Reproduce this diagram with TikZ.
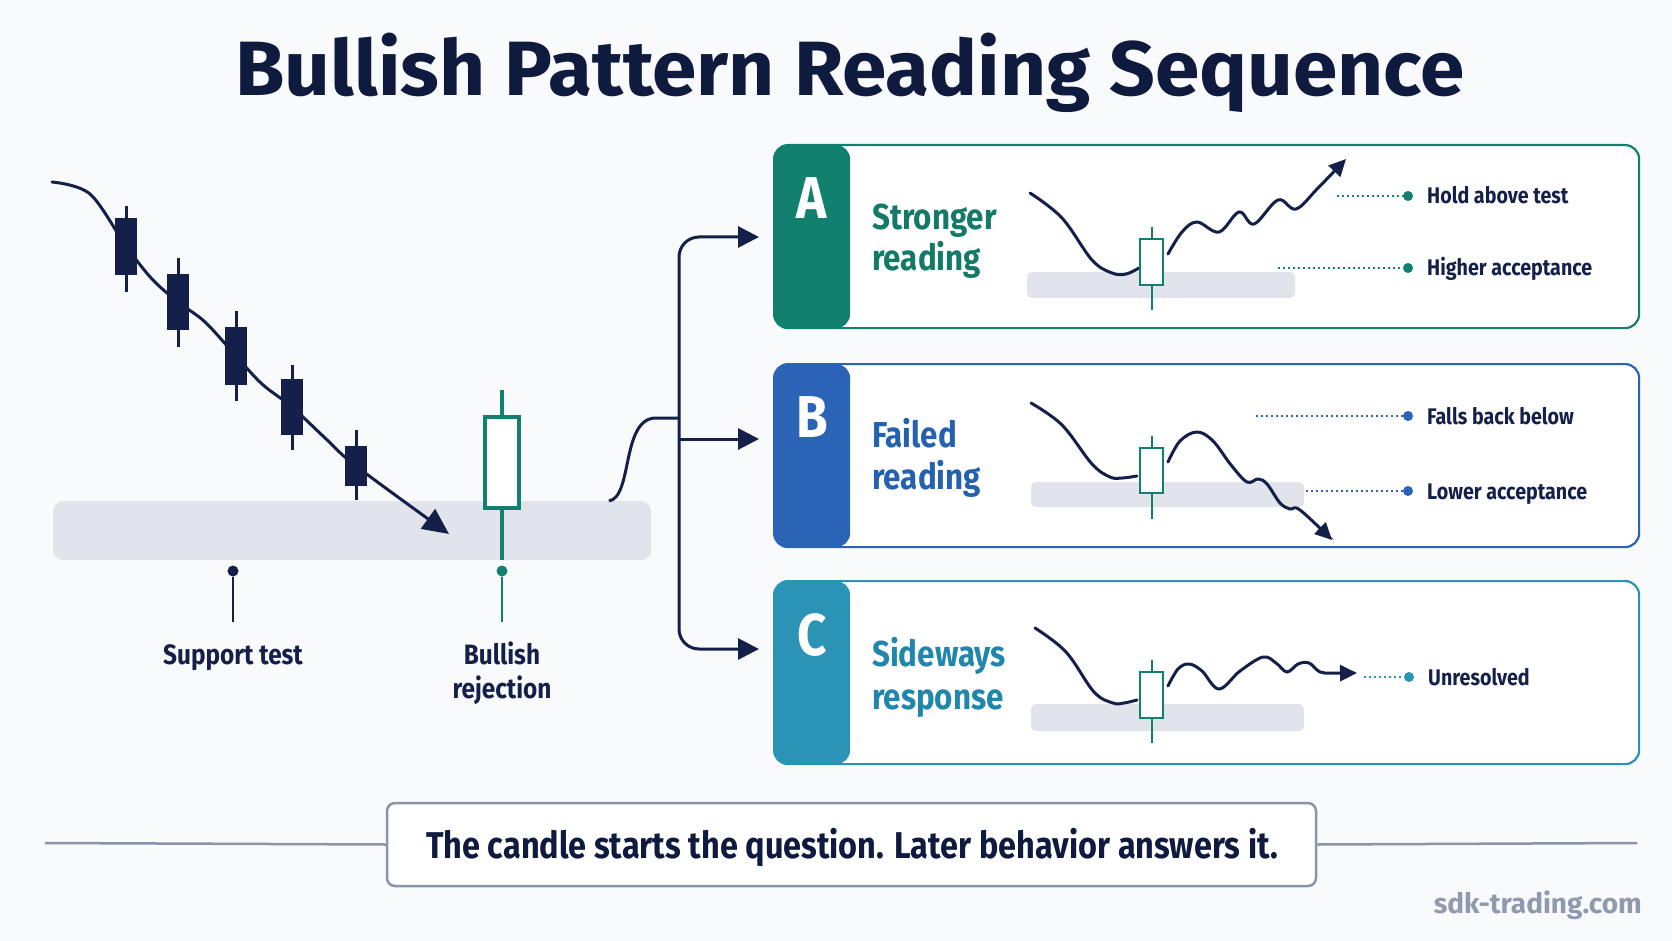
\documentclass[tikz,border=0pt]{standalone}
\usepackage{fontspec}
\setmainfont{Fira Sans}[FakeStretch=0.87]
\newfontfamily\titlefont{Fira Sans}[FakeStretch=1.04]
\newfontfamily\wmfont{Fira Sans}[FakeStretch=1.0]
\usetikzlibrary{arrows.meta}
\definecolor{bgc}{HTML}{F9FAFB}
\definecolor{navy}{HTML}{14204A}
\definecolor{titlec}{HTML}{0F1A3F}
\definecolor{tealA}{HTML}{12806E}
\definecolor{tealT}{HTML}{137A67}
\definecolor{blueB}{HTML}{2B63B7}
\definecolor{blueT}{HTML}{2462B0}
\definecolor{cyanC}{HTML}{2A93B6}
\definecolor{cyanT}{HTML}{2186AC}
\definecolor{bandc}{HTML}{E1E4EA}
\definecolor{linegray}{HTML}{8A94A8}
\definecolor{wmgray}{HTML}{8F9AAE}
\begin{document}
\begin{tikzpicture}[x=1pt,y=-1pt,
  conn/.style={draw=navy, line width=3pt},
  bigtip/.style={-{Triangle[length=26pt,width=24pt]}},
  brtip/.style={-{Triangle[length=21pt,width=21pt]}},
  smalltip/.style={-{Triangle[length=17pt,width=16pt]}},
  curve/.style={draw=navy, line width=3pt, line cap=round},
  panel/.style={rounded corners=14pt, line width=2.2pt, fill=white, minimum width=865pt, minimum height=183pt, inner sep=0pt, anchor=north west},
  minicandle/.style={draw=tealA, line width=2.5pt},
  minidot/.style={circle, inner sep=0pt, minimum size=10pt},
  dotline/.style={line width=1.6pt, dash pattern=on 2pt off 3pt},
  lbl/.style={anchor=base west, text=navy, font=\bfseries\fontsize{22.6}{26}\selectfont, inner sep=0pt},
  ptitle/.style={anchor=base west, align=left, inner sep=0pt},
  letter/.style={anchor=base, text=white, font=\bfseries\fontsize{59}{60}\selectfont, inner sep=0pt}
]
\useasboundingbox (0,0) rectangle (1672,941);
\fill[bgc] (0,0) rectangle (1672,941);

% title
\node[anchor=base, font=\titlefont\bfseries\fontsize{77}{80}\selectfont, text=titlec, inner sep=0pt] (title) at (850,96) {Bullish Pattern Reading Sequence};

% support band
\node[fill=bandc, rounded corners=10pt, minimum width=598pt, minimum height=59pt, inner sep=0pt, anchor=north west] (band) at (53,501) {};

% downtrend
\draw[curve, bigtip] plot[smooth, tension=0.55] coordinates {(52,182) (90,194) (126,246) (152,279) (178,302) (205,322) (236,356) (262,384) (292,407) (324,437) (356,466) (449,534)};
\foreach \cx/\bt/\bb/\wt/\wb in {126/218/275/206/292, 178/274/330/258/347, 236/327/385/311/401, 292/379/435/365/450, 356/446/486/430/500} {
  \draw[navy, line width=3pt] (\cx,\wt) -- (\cx,\wb);
  \fill[navy] (\cx-11,\bt) rectangle (\cx+11,\bb);
}

% bullish candle
\draw[tealA, line width=4pt] (502,390) -- (502,417) (502,508) -- (502,560);
\draw[tealA, line width=4pt, fill=white] (485,417) rectangle (519,508);

% markers below
\node[circle, fill=navy, inner sep=0pt, minimum size=11pt] (dST) at (233,571) {};
\draw[navy, line width=2.5pt] (dST) -- (233,622);
\node[circle, fill=tealA, inner sep=0pt, minimum size=11pt] (dBR) at (502,571) {};
\draw[tealA, line width=2.5pt] (dBR) -- (502,622);
\node[anchor=base, text=navy, font=\bfseries\fontsize{28}{34}\selectfont, inner sep=0pt] (lST) at (233,664) {Support test};
\node[anchor=base, align=center, text=navy, font=\bfseries\fontsize{28}{34}\selectfont, inner sep=0pt] (lBR) at (502,698) {Bullish\\rejection};

% panels
\node[panel, draw=tealA, path picture={\fill[tealA] (path picture bounding box.north west) rectangle ([xshift=76pt]path picture bounding box.south west);}] (pA) at (773,144) {};
\node[panel, draw=blueB, path picture={\fill[blueB] (path picture bounding box.north west) rectangle ([xshift=76pt]path picture bounding box.south west);}] (pB) at (773,363) {};
\node[panel, draw=cyanC, path picture={\fill[cyanC] (path picture bounding box.north west) rectangle ([xshift=76pt]path picture bounding box.south west);}] (pC) at (773,580) {};

\node[letter] (LA) at (812,219) {A};
\node[letter] (LB) at (812,437) {B};
\node[letter] (LC) at (812,655) {C};

\node[ptitle, text=tealT, font=\bfseries\fontsize{36}{40}\selectfont] (tA) at (872,270) {Stronger\\reading};
\node[ptitle, text=blueT, font=\bfseries\fontsize{36}{42}\selectfont] (tB) at (872,489) {Failed\\reading};
\node[ptitle, text=cyanT, font=\bfseries\fontsize{36}{43}\selectfont] (tC) at (872,709) {Sideways\\response};

% branching connectors
\coordinate (bandOut) at (609,501);
\coordinate (jn) at (679,418);
\coordinate (jB) at (679,439);
\coordinate (aA) at (759,237);
\coordinate (aB) at (759,439);
\coordinate (aC) at (759,649);
\draw[conn] (bandOut) .. controls (633,497) and (621,418) .. (656,418) -- (jn);
\draw[conn, brtip, rounded corners=20pt] (jn) |- (aA);
\draw[conn, brtip, rounded corners=20pt] (jn) |- (aC);
\draw[conn, brtip] (jB) -- (aB);

% ---- panel A mini chart
\fill[bandc, rounded corners=5pt] (1027,272) rectangle (1295,298);
\draw[curve] plot[smooth, tension=0.6] coordinates {(1030,193) (1062,218) (1092,260) (1112,273) (1126,274) (1139,268)};
\draw[curve, smalltip] plot[smooth, tension=0.6] coordinates {(1168,254) (1182,232) (1197,222) (1219,232) (1239,212) (1254,224) (1278,200) (1296,209) (1318,188) (1346,159)};
\draw[minicandle] (1152,227) -- (1152,310);
\draw[minicandle, fill=white] (1140,239) rectangle (1163,285);
\node[minidot, fill=tealA] (dA1) at (1408,196) {};
\node[minidot, fill=tealA] (dA2) at (1408,268) {};
\draw[tealA, dotline] (1337,196) -- (dA1);
\draw[tealA, dotline] (1278,268) -- (dA2);
\node[lbl] (lA1) at (1427,204) {Hold above test};
\node[lbl] (lA2) at (1427,276) {Higher acceptance};

% ---- panel B mini chart
\fill[bandc, rounded corners=5pt] (1031,482) rectangle (1304,507);
\draw[curve] plot[smooth, tension=0.6] coordinates {(1031,403) (1062,425) (1092,464) (1110,477) (1122,478) (1137,476)};
\draw[curve, smalltip] plot[smooth, tension=0.6] coordinates {(1168,462) (1180,441) (1197,432) (1213,441) (1231,465) (1247,482) (1258,479) (1267,484) (1280,503) (1290,509) (1300,510) (1332,540)};
\draw[minicandle] (1152,436) -- (1152,519);
\draw[minicandle, fill=white] (1140,448) rectangle (1163,493);
\node[minidot, fill=blueB] (dB1) at (1408,416) {};
\node[minidot, fill=blueB] (dB2) at (1408,491) {};
\draw[blueB, dotline] (1256,416) -- (dB1);
\draw[blueB, dotline] (1306,491) -- (dB2);
\node[lbl] (lB1) at (1427,424) {Falls back below};
\node[lbl] (lB2) at (1427,499) {Lower acceptance};

% ---- panel C mini chart
\fill[bandc, rounded corners=5pt] (1031,704) rectangle (1304,731);
\draw[curve] plot[smooth, tension=0.6] coordinates {(1035,628) (1066,652) (1094,692) (1113,703) (1124,703) (1137,700)};
\draw[curve, smalltip] plot[smooth, tension=0.6] coordinates {(1168,686) (1178,669) (1189,664) (1202,671) (1219,689) (1240,671) (1263,657) (1276,663) (1287,672) (1298,664) (1309,663) (1320,672) (1332,673) (1357,673)};
\draw[minicandle] (1152,660) -- (1152,743);
\draw[minicandle, fill=white] (1140,672) rectangle (1163,718);
\node[minidot, fill=cyanC] (dC1) at (1409,677) {};
\draw[cyanC, dotline] (1364,677) -- (dC1);
\node[lbl] (lC1) at (1428,685) {Unresolved};

% bottom message
\node[draw=linegray, line width=2.5pt, fill=white, rounded corners=8pt, minimum width=929pt, minimum height=83pt, inner sep=0pt] (msg) at (851.5,844.5) {};
\draw[linegray, line width=2.5pt] (45,843) -- (msg.west);
\draw[linegray, line width=2.5pt] (msg.east) -- (1637,843);
\node[anchor=base, text=titlec, font=\bfseries\fontsize{37.3}{40}\selectfont, inner sep=0pt] (msgtext) at (852,858) {The candle starts the question. Later behavior answers it.};

% watermark
\node[anchor=base east, text=wmgray, font=\wmfont\bfseries\fontsize{28}{30}\selectfont, inner sep=0pt] (wm) at (1642,913) {sdk-trading.com};
\end{tikzpicture}
\end{document}
